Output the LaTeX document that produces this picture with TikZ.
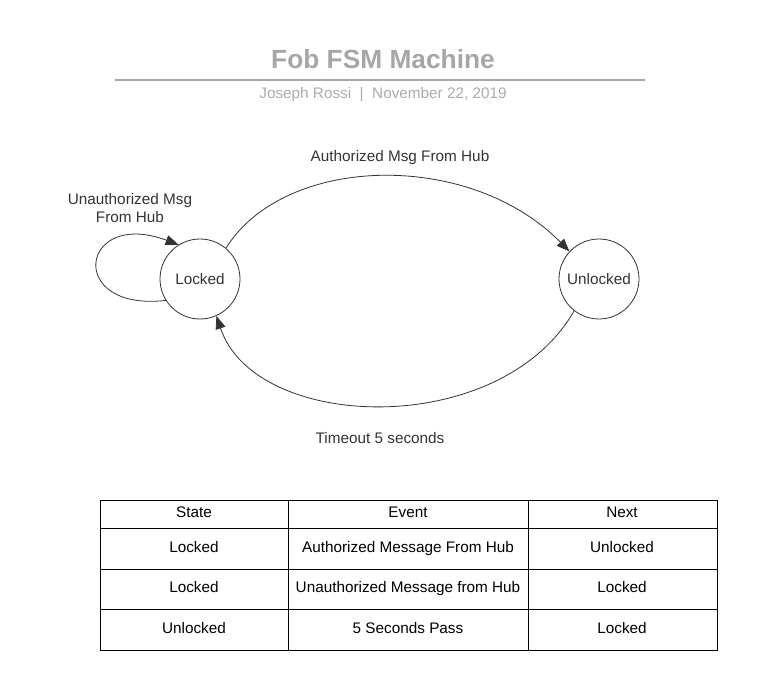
\documentclass[tikz,border=0pt]{standalone}
\usepackage{fontspec}
\setmainfont{Liberation Sans}
\usetikzlibrary{arrows.meta}
\definecolor{titlegray}{HTML}{A6A6A6}
\definecolor{subgray}{HTML}{ABABAB}
\definecolor{ink}{HTML}{333333}
\begin{document}
\begin{tikzpicture}[x=1pt,y=-1pt,
  state/.style={circle,draw=ink,line width=0.8pt,minimum size=80pt,inner sep=0pt,font=\fontsize{15.3}{17}\selectfont,text=ink},
  edge/.style={draw=ink,line width=0.8pt,-{Triangle[length=13pt,width=10pt]}},
  lbl/.style={font=\fontsize{15.3}{18}\selectfont,text=ink,align=center},
  cell/.style={font=\fontsize{15.3}{17}\selectfont,text=black,text height=11pt,text depth=3pt},
  grid/.style={draw=black,line width=0.8pt}]
\useasboundingbox (0,0) rectangle (757,690);
% title
\node[font=\bfseries\fontsize{26.3}{30}\selectfont,text=titlegray] (title) at (383,59) {Fob FSM Machine};
\draw[titlegray,line width=1.6pt] (115,80) -- (645,80);
\node[font=\fontsize{15.3}{17}\selectfont,text=subgray] (sub) at (383,95) {Joseph Rossi\ \ |\ \ November 22, 2019};
% states
\node[state] (L) at (200,279) {Locked};
\node[state] (U) at (599,279) {Unlocked};
% transitions
\draw[edge] (L.50) .. controls (285,154) and (470,150) .. (U.137);
\draw[edge] (U.232) .. controls (500,440) and (255,432) .. (L.294);
\draw[edge] (L.212) .. controls (65,312) and (80,208) .. (L.122);
% labels
\node[lbl] (l1) at (400,158) {Authorized Msg From Hub};
\node[lbl] (l2) at (130,208) {Unauthorized Msg\\From Hub};
\node[lbl] (l3) at (380,438) {Timeout 5 seconds};
% table
\draw[grid] (100,500) rectangle (717,650);
\draw[grid] (288,500) -- (288,650);
\draw[grid] (528,500) -- (528,650);
\draw[grid] (100,528) -- (717,528);
\draw[grid] (100,569) -- (717,569);
\draw[grid] (100,609) -- (717,609);
\node[cell] (h1) at (194,513) {State};
\node[cell] (h2) at (408,513) {Event};
\node[cell] (h3) at (622,513) {Next};
\node[cell] (a1) at (194,548) {Locked};
\node[cell] (a2) at (408,548) {Authorized Message From Hub};
\node[cell] (a3) at (622,548) {Unlocked};
\node[cell] (b1) at (194,588) {Locked};
\node[cell] (b2) at (408,588) {Unauthorized Message from Hub};
\node[cell] (b3) at (622,588) {Locked};
\node[cell] (c1) at (194,629) {Unlocked};
\node[cell] (c2) at (408,629) {5 Seconds Pass};
\node[cell] (c3) at (622,629) {Locked};
\end{tikzpicture}
\end{document}
